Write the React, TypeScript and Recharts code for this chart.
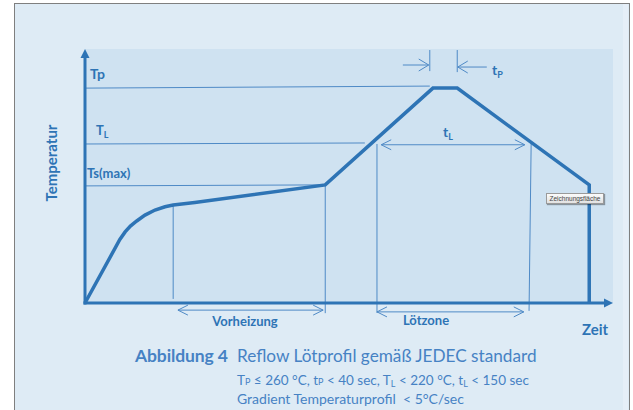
import React from 'react';
import { LineChart, Line, XAxis, YAxis, CartesianGrid, ReferenceLine } from 'recharts';

const FONT = "Lato, 'Open Sans', sans-serif";
const BLUE = '#2e74b5';
const THIN = '#4f8ac6';
const CAPTION = '#4682c4';

// profile, time and temperature in arbitrary schematic units (0..100)
const profileTime = [0, 6.6, 7.6, 8.6, 9.8, 11.36, 13.26, 15.15, 16.7, 20.8, 45.5, 65.9, 70.5, 95.5, 95.5];
const profileTemp = [0, 25.0, 28.0, 30.3, 32.3, 34.6, 36.6, 37.9, 38.6, 39.6, 46.5, 84.6, 84.6, 46.5, 0];

// horizontal guide lines Tp, TL, Ts(max)
const levelNames = ['Tp', 'TL', 'Ts(max)'];
const levelStartTemps = [84.6, 62.6, 46.1];
const levelEndTemps = [85.4, 63.0, 46.5];
const levelEndTimes = [65.3, 53.0, 45.5];

// thin vertical markers of the zones
const markerTopTimes = [16.7, 45.5, 55.3, 84.5];
const markerBottomTimes = [16.7, 45.5, 55.3, 84.1];
const markerTopTemps = [38.6, 46.5, 62.6, 63.0];
const markerBottomTemps = [1.6, -4.0, -3.9, -3.1];

// double arrows
const spanNames = ['Vorheizung', 'Lötzone', 'tL'];
const spanStart = [17.6, 55.3, 56.1];
const spanEnd = [45.1, 83.1, 83.3];
const spanTemp = [-2.8, -3.5, 62.3];

// tp marks above the peak
const peakTickTimes = [65.3, 70.5];
const peakTickTop = [99.6, 99.6];
const peakTickBottom = [91.3, 90.9];
const peakArrowFrom = [60.2, 76.1];
const peakArrowTo = [65.1, 70.6];
const peakArrowTemps = [93.7, 92.9];

const profile = profileTime.map((t, i) => ({ t, T: profileTemp[i] }));

const thinLine = (p: any) => (
  <line x1={p.x1} y1={p.y1} x2={p.x2} y2={p.y2} stroke={THIN} strokeWidth={1} />
);

const arrowShape = (both: boolean, len = 10, half = 5) => (p: any) => {
  const { x1, y1, x2, y2 } = p;
  const dx = x2 - x1;
  const dy = y2 - y1;
  const d = Math.hypot(dx, dy) || 1;
  const ux = dx / d;
  const uy = dy / d;
  const head = (px: number, py: number, vx: number, vy: number) =>
    `${px - vx * len - vy * half},${py - vy * len + vx * half} ${px},${py} ${px - vx * len + vy * half},${py - vy * len - vx * half}`;
  return (
    <g>
      <line x1={x1} y1={y1} x2={x2} y2={y2} stroke={THIN} strokeWidth={1} />
      <polyline points={head(x2, y2, ux, uy)} fill="none" stroke={THIN} strokeWidth={1} />
      {both && <polyline points={head(x1, y1, -ux, -uy)} fill="none" stroke={THIN} strokeWidth={1} />}
    </g>
  );
};

const axisShape = (p: any) => {
  const { x1, y1, x2, y2 } = p;
  const dx = x2 - x1;
  const dy = y2 - y1;
  const d = Math.hypot(dx, dy) || 1;
  const ux = dx / d;
  const uy = dy / d;
  const len = 9;
  const half = 4.5;
  const bx = x2 - ux * len;
  const by = y2 - uy * len;
  return (
    <g>
      <line x1={x1 - ux * 1.5} y1={y1 - uy * 1.5} x2={bx} y2={by} stroke={BLUE} strokeWidth={3} />
      <polygon
        points={`${x2},${y2} ${bx - uy * half},${by + ux * half} ${bx + uy * half},${by - ux * half}`}
        fill={BLUE}
      />
    </g>
  );
};

const Sub = ({ children }: { children: React.ReactNode }) => (
  <tspan fontSize={9} dy={3}>{children}</tspan>
);

export default function App() {
  return (
    <div style={{ position: 'absolute', left: 0, top: 0, width: 633, height: 410, background: '#fff', overflow: 'hidden', fontFamily: FONT }}>
      <div style={{ position: 'absolute', left: 14, top: 3, width: 614, height: 420, background: '#deebf5', borderTop: '1px solid #7f7f7f', borderLeft: '1px solid #7f7f7f', borderRight: '1px solid #7f7f7f' }} />
      <div style={{ position: 'absolute', left: 623, top: 4, width: 5, height: 410, background: '#e6eff8' }} />
      <div style={{ position: 'absolute', left: 0, top: 0 }}>
        <LineChart width={633} height={410} data={profile} margin={{ top: 49, right: 20, bottom: 107, left: 85 }}>
          <CartesianGrid horizontal={false} vertical={false} fill="#cfe2f1" />
          <XAxis type="number" dataKey="t" domain={[0, 100]} hide />
          <YAxis type="number" domain={[0, 100]} hide />
          {levelNames.map((n, i) => (
            <ReferenceLine key={n} ifOverflow="visible" shape={thinLine}
              segment={[{ x: 0, y: levelStartTemps[i] }, { x: levelEndTimes[i], y: levelEndTemps[i] }]} />
          ))}
          {markerTopTimes.map((t, i) => (
            <ReferenceLine key={'m' + i} ifOverflow="visible" shape={thinLine}
              segment={[{ x: t, y: markerTopTemps[i] }, { x: markerBottomTimes[i], y: markerBottomTemps[i] }]} />
          ))}
          {spanNames.map((n, i) => (
            <ReferenceLine key={n} ifOverflow="visible" shape={arrowShape(true, 10, 5)}
              segment={[{ x: spanStart[i], y: spanTemp[i] }, { x: spanEnd[i], y: spanTemp[i] }]} />
          ))}
          {peakTickTimes.map((t, i) => (
            <ReferenceLine key={'pt' + i} ifOverflow="visible" shape={thinLine}
              segment={[{ x: t, y: peakTickTop[i] }, { x: t, y: peakTickBottom[i] }]} />
          ))}
          {peakArrowFrom.map((t, i) => (
            <ReferenceLine key={'pa' + i} ifOverflow="visible" shape={arrowShape(false, 10, 6)}
              segment={[{ x: t, y: peakArrowTemps[i] }, { x: peakArrowTo[i], y: peakArrowTemps[i] }]} />
          ))}
          <ReferenceLine ifOverflow="visible" shape={axisShape} segment={[{ x: 0, y: 0 }, { x: 0, y: 100 }]} />
          <ReferenceLine ifOverflow="visible" shape={axisShape} segment={[{ x: 0, y: 0 }, { x: 100, y: 0 }]} />
          <Line type="linear" dataKey="T" stroke={BLUE} strokeWidth={3.5} dot={false} isAnimationActive={false} />
        </LineChart>
      </div>
      <svg width={633} height={410} style={{ position: 'absolute', left: 0, top: 0, pointerEvents: 'none' }}>
        <g fill={BLUE} fontWeight="bold" fontFamily={FONT}>
          <text x={90} y={79} fontSize={14}>Tp</text>
          <text x={96} y={135} fontSize={13}>T<Sub>L</Sub></text>
          <text x={87} y={178} fontSize={13}>Ts(max)</text>
          <text x={443} y={137} fontSize={14}>t<Sub>L</Sub></text>
          <text x={492} y={75} fontSize={14}>t<Sub>P</Sub></text>
          <text x={245} y={326} fontSize={13} textAnchor="middle">Vorheizung</text>
          <text x={426} y={325} fontSize={13} textAnchor="middle">Lötzone</text>
          <text x={582} y={335} fontSize={15}>Zeit</text>
          <text transform="translate(57,163) rotate(-90)" fontSize={15} textAnchor="middle">Temperatur</text>
        </g>
        <g fill={CAPTION} fontFamily={FONT}>
          <text x={135} y={362} fontSize={17.5} fontWeight="bold" textLength={93}>Abbildung 4</text>
          <text x={237} y={362} fontSize={17.2}>Reflow Lötprofil gemäß JEDEC standard</text>
          <text x={237} y={385} fontSize={13.5}>
            T<tspan fontSize={9}>P</tspan> ≤ 260 °C, t<tspan fontSize={9}>P</tspan> &lt; 40 sec, T<tspan fontSize={9} dy={2}>L</tspan><tspan dy={-2}> &lt; 220 °C, t</tspan><tspan fontSize={9} dy={2}>L</tspan><tspan dy={-2}> &lt; 150 sec</tspan>
          </text>
          <text x={237} y={404} fontSize={14} style={{ whiteSpace: 'pre' }}>{'Gradient Temperaturprofil  < 5°C/sec'}</text>
        </g>
      </svg>
      <div style={{ position: 'absolute', left: 546, top: 193, width: 56, height: 9, border: '1px solid #9a9a9a', background: 'linear-gradient(#fbfbfb, #e2e2e2)', boxShadow: '1px 1px 1px rgba(0,0,0,0.35)', fontFamily: "'Liberation Sans Narrow', 'Liberation Sans', sans-serif", fontSize: 6.5, lineHeight: '9px', color: '#444', textAlign: 'center', whiteSpace: 'nowrap', overflow: 'hidden' }}>
        Zeichnungsfläche
      </div>
    </div>
  );
}
